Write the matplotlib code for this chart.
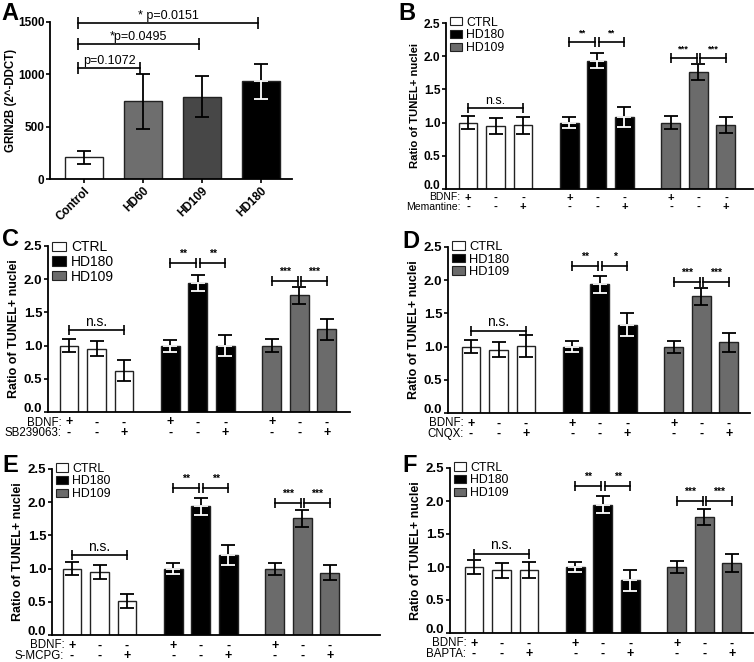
import matplotlib
matplotlib.use("Agg")
import matplotlib.pyplot as plt
from matplotlib.patches import Patch

plt.rcParams['font.family'] = ['Liberation Sans', 'DejaVu Sans']

W, H = 754, 662

# Panel A: GRIN2B expression
a_groups = ["Control", "HD60", "HD109", "HD180"]
a_means = [207, 742, 787, 933]
a_sems = [65, 260, 195, 170]
a_colors = ["white", "#6e6e6e", "#474747", "black"]
a_p_targets = [1, 2, 3]
a_p_heights = [1060, 1290, 1490]
a_p_labels = ["p=0.1072", "*p=0.0495", "* p=0.0151"]

# Panels B-F: TUNEL ratio, 3 groups x 3 conditions
legend_labels = ["CTRL", "HD180", "HD109"]
group_colors = ["white", "black", "#6b6b6b"]
bdnf_signs = ["+", "-", "-"]
drug_signs = ["-", "-", "+"]

panel_letters = ["B", "C", "D", "E", "F"]
drug_names = ["Memantine:", "SB239063:", "CNQX:", "S-MCPG:", "BAPTA:"]
means = [
    [1.00, 0.95, 0.96, 1.00, 1.935, 1.09, 1.00, 1.755, 0.96],
    [1.00, 0.955, 0.62, 1.00, 1.945, 1.00, 1.00, 1.755, 1.248],
    [1.00, 0.955, 1.01, 1.00, 1.94, 1.33, 1.00, 1.757, 1.065],
    [1.00, 0.946, 0.513, 1.00, 1.94, 1.20, 1.00, 1.755, 0.94],
    [1.00, 0.95, 0.95, 1.00, 1.944, 0.80, 1.00, 1.758, 1.06],
]
errs = [
    [0.10, 0.12, 0.13, 0.08, 0.12, 0.15, 0.10, 0.12, 0.12],
    [0.10, 0.11, 0.16, 0.09, 0.12, 0.16, 0.10, 0.13, 0.16],
    [0.10, 0.11, 0.16, 0.08, 0.13, 0.17, 0.09, 0.125, 0.145],
    [0.10, 0.11, 0.10, 0.08, 0.13, 0.15, 0.09, 0.13, 0.11],
    [0.10, 0.115, 0.12, 0.08, 0.125, 0.16, 0.09, 0.125, 0.14],
]
ns_heights = [1.215, 1.23, 1.24, 1.20, 1.20]
hd180_heights = [2.215, 2.24, 2.22, 2.213, 2.22]
hd109_heights = [1.975, 1.98, 1.98, 1.986, 1.995]
hd180_stars = [["**", "**"], ["**", "**"], ["**", "*"], ["**", "**"], ["**", "**"]]
hd109_stars = [["***", "***"]] * 5

# layout in pixels: left, top, right, bottom
a_box = (50, 22, 292, 179)
boxes = [(446, 23, 753, 189), (48, 246, 350, 412), (448, 247, 750, 413),
         (52, 469, 380, 635), (450, 468, 753, 633)]
first_bar_px = [468, 69, 471, 72, 474]
pitch_px = 27.5
group_step = 3.69
scales = [0.9, 1.0, 1.0, 1.0, 1.0]


def add_ax(fig, box):
    l, t, r, b = box
    return fig.add_axes([l / W, 1 - b / H, (r - l) / W, (b - t) / H])


def style_ax(ax, fs):
    for s in ["top", "right"]:
        ax.spines[s].set_visible(False)
    for s in ["left", "bottom"]:
        ax.spines[s].set_linewidth(1.3)
    ax.tick_params(direction="out", length=3, width=1.2, labelsize=fs, pad=1)
    for lab in ax.get_yticklabels():
        lab.set_fontweight("bold")


def bar_with_err(ax, x, m, e, color, width):
    ax.bar(x, m, width=width, color=color, edgecolor="#222222", linewidth=1.0, zorder=2)
    if color == "black":
        ax.errorbar(x, m, yerr=[[0], [e]], fmt="none", ecolor="black",
                    elinewidth=1.3, capsize=5, capthick=1.3, zorder=3)
        ax.errorbar(x, m, yerr=[[e], [0]], fmt="none", ecolor="white",
                    elinewidth=1.3, capsize=5, capthick=1.3, zorder=3)
    else:
        ax.errorbar(x, m, yerr=e, fmt="none", ecolor="black",
                    elinewidth=1.3, capsize=5, capthick=1.3, zorder=3)


def bracket(ax, x0, x1, y, text, fs, off, bold=False, ms=7):
    ax.plot([x0, x1], [y, y], color="black", lw=1.2, zorder=4, clip_on=False)
    ax.plot([x0, x1], [y, y], ls="none", marker="|", ms=ms, mew=1.2,
            color="black", zorder=4, clip_on=False)
    ax.annotate(text, ((x0 + x1) / 2, y), xytext=(0, off), textcoords="offset points",
                ha="center", va="bottom", fontsize=fs,
                fontweight="bold" if bold else "normal", annotation_clip=False)


fig = plt.figure(figsize=(W / 100, H / 100), dpi=100)

# ---- Panel A
ax = add_ax(fig, a_box)
xa = list(range(len(a_groups)))
for i in xa:
    bar_with_err(ax, i, a_means[i], a_sems[i], a_colors[i], 0.65)
ax.set_xlim(-0.58, 3.53)
ax.set_ylim(0, 1500)
ax.set_yticks([0, 500, 1000, 1500])
ax.set_xticks(xa)
ax.set_xticklabels(a_groups, rotation=45, ha="right", rotation_mode="anchor",
                   fontweight="bold")
style_ax(ax, 8.5)
ax.set_ylabel("GRIN2B (2^-DDCT)", fontsize=8.3, fontweight="bold", labelpad=1)
for t, h, lab in zip(a_p_targets, a_p_heights, a_p_labels):
    bracket(ax, -0.1, t - 0.05, h, lab, 9, 1, ms=8)
fig.text(1 / W, 1 - 2 / H, "A", fontsize=17, fontweight="bold", ha="left", va="top")

# ---- Panels B-F
letter_pos = [(398, 2), (2, 228), (402, 230), (2, 454), (402, 454)]
for k in range(5):
    sc = scales[k]
    ax = add_ax(fig, boxes[k])
    l, t, r, b = boxes[k]
    xs = [g * group_step + i for g in range(3) for i in range(3)]
    for j, x in enumerate(xs):
        bar_with_err(ax, x, means[k][j], errs[k][j], group_colors[j // 3], 0.69)
    x_left = -(first_bar_px[k] - l) / pitch_px
    x_right = (r - first_bar_px[k]) / pitch_px
    ax.set_xlim(x_left, x_right)
    ax.set_ylim(0, 2.5)
    ax.set_yticks([0, 0.5, 1.0, 1.5, 2.0, 2.5])
    ax.set_yticklabels(["0.0", "0.5", "1.0", "1.5", "2.0", "2.5"])
    ax.set_xticks([])
    style_ax(ax, 9.5 * sc)
    ax.get_yticklabels()[0].set_va("baseline")
    ax.set_ylabel("Ratio of TUNEL+ nuclei", fontsize=9 * sc, fontweight="bold",
                  labelpad=3)

    # significance
    bracket(ax, xs[0], xs[2], ns_heights[k], "n.s.", 10 * sc, 1)
    for g, hts, stars in [(1, hd180_heights[k], hd180_stars[k]),
                          (2, hd109_heights[k], hd109_stars[k])]:
        c0, c1, c2 = xs[3 * g], xs[3 * g + 1], xs[3 * g + 2]
        bracket(ax, c0, c1 - 0.07, hts, stars[0], 7.5 * sc, 3, bold=True)
        bracket(ax, c1 + 0.07, c2, hts, stars[1], 7.5 * sc, 3, bold=True)

    # sign rows below axis
    axh = b - t
    row1 = -(10.5 if k else 8.5) / axh
    row2 = -(21 if k else 18) / axh
    trans = ax.get_xaxis_transform()
    for j, x in enumerate(xs):
        ax.text(x, row1, bdnf_signs[j % 3], transform=trans, ha="center", va="center",
                fontsize=9 * sc, fontweight="bold", clip_on=False)
        ax.text(x, row2, drug_signs[j % 3], transform=trans, ha="center", va="center",
                fontsize=9 * sc, fontweight="bold", clip_on=False)
    ax.text(xs[0] - 0.28, row1, "BDNF:", transform=trans, ha="right", va="center",
            fontsize=8.3 * sc, clip_on=False)
    ax.text(xs[0] - 0.28, row2, drug_names[k], transform=trans, ha="right", va="center",
            fontsize=8.3 * sc, clip_on=False)

    handles = [Patch(facecolor=c, edgecolor="#222222", linewidth=0.8) for c in group_colors]
    leg_fs = [8.8, 10, 9.3, 8.9, 8.9][k]
    ax.legend(handles, legend_labels, loc="upper left", bbox_to_anchor=(0.0, 1.06),
              frameon=False, fontsize=leg_fs, handlelength=1.0, handleheight=0.65,
              handletextpad=0.35, labelspacing=0.05, borderaxespad=0.2, borderpad=0.1)

    lx, ly = letter_pos[k]
    fig.text(lx / W, 1 - ly / H, panel_letters[k], fontsize=17, fontweight="bold",
             ha="left", va="top")

fig.savefig("out.png", dpi=100)
